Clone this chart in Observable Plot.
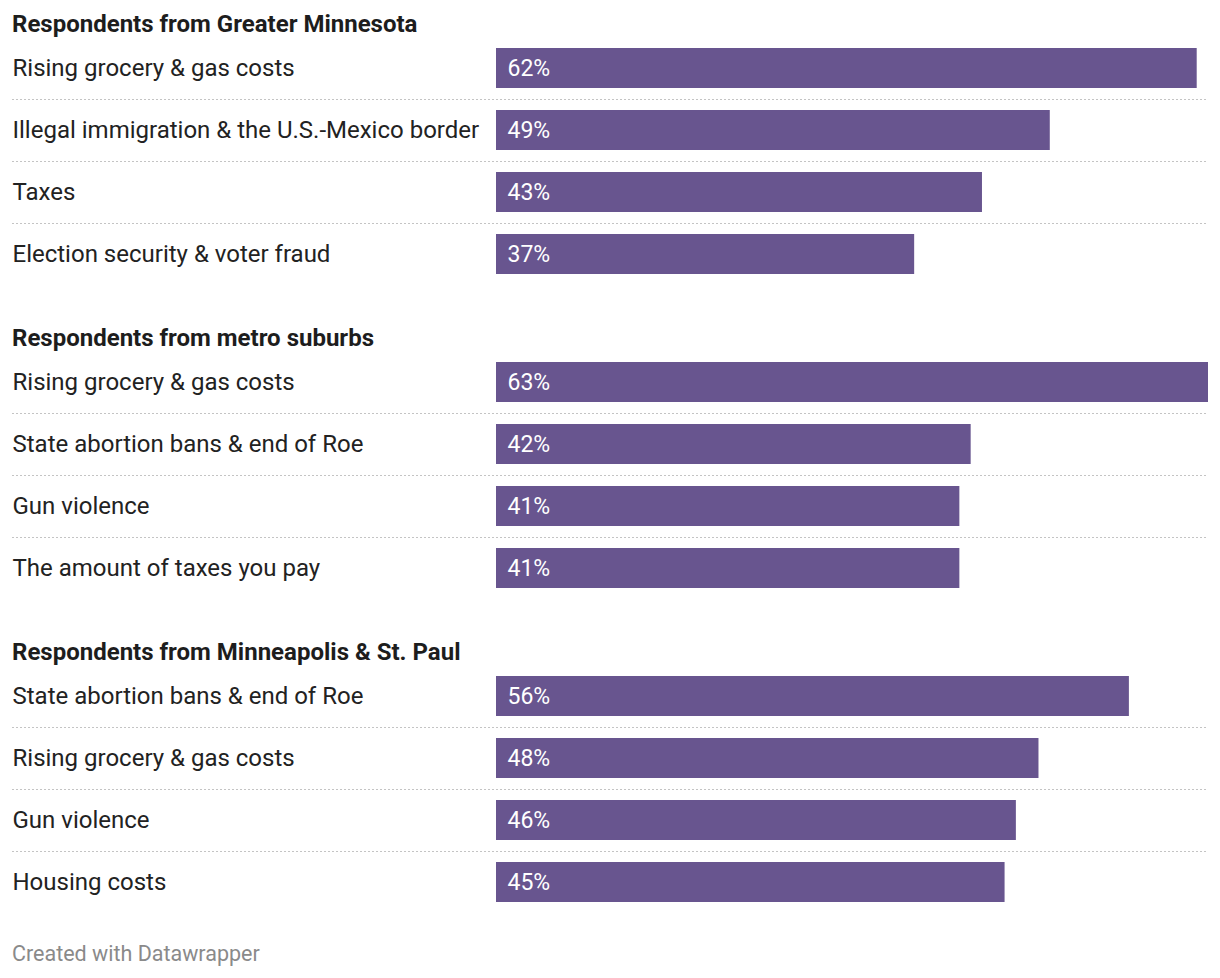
<!DOCTYPE html>
<html>
<head>
<meta charset="utf-8">
<script src="https://cdn.jsdelivr.net/npm/d3@7"></script>
<script src="https://cdn.jsdelivr.net/npm/@observablehq/plot@0.6"></script>
<style>
  body { margin: 0; background: #fff; font-family: Roboto, "Noto Sans", sans-serif; }
  #chart { width: 1220px; }
  .head { font-weight: 700; font-size: 24px; line-height: 26px; color: #1d1d1d; padding-left: 12px; }
  .head.first { padding-top: 11px; }
  .head.next { margin-top: 40px; }
  .foot { font-size: 21.5px; line-height: 24px; color: #8a8a8a; padding-left: 12px; margin-top: 29px; }
  svg { display: block; }
</style>
</head>
<body>
<div id="chart"></div>
<script>
const groupTitles = [
  "Respondents from Greater Minnesota",
  "Respondents from metro suburbs",
  "Respondents from Minneapolis & St. Paul"
];
const greaterMNIssues = [
  "Rising grocery & gas costs",
  "Illegal immigration & the U.S.-Mexico border",
  "Taxes",
  "Election security & voter fraud"
];
const greaterMNValues = [62, 49, 43, 37];
const suburbsIssues = [
  "Rising grocery & gas costs",
  "State abortion bans & end of Roe",
  "Gun violence",
  "The amount of taxes you pay"
];
const suburbsValues = [63, 42, 41, 41];
const citiesIssues = [
  "State abortion bans & end of Roe",
  "Rising grocery & gas costs",
  "Gun violence",
  "Housing costs"
];
const citiesValues = [56, 48, 46, 45];
const footerText = "Created with Datawrapper";

const groups = [
  {title: groupTitles[0], issues: greaterMNIssues, values: greaterMNValues},
  {title: groupTitles[1], issues: suburbsIssues, values: suburbsValues},
  {title: groupTitles[2], issues: citiesIssues, values: citiesValues}
];
const xMax = d3.max([...greaterMNValues, ...suburbsValues, ...citiesValues]);

const root = document.getElementById("chart");
groups.forEach((g, gi) => {
  const h = document.createElement("div");
  h.className = "head " + (gi === 0 ? "first" : "next");
  h.textContent = g.title;
  root.appendChild(h);

  const rows = g.issues.map((issue, i) => ({issue, value: g.values[i], idx: i}));
  const plot = Plot.plot({
    width: 1220,
    height: 248,
    marginLeft: 12,
    marginRight: 12,
    marginTop: 0,
    marginBottom: 0,
    style: {fontFamily: "Roboto, 'Noto Sans', sans-serif", background: "#fff"},
    x: {domain: [0, xMax], range: [496, 1208], axis: null},
    y: {domain: g.issues, axis: null, paddingInner: 22 / 62, paddingOuter: 11 / 62},
    marks: [
      Plot.ruleY(rows.filter(d => d.idx < rows.length - 1), {
        y: "issue", dy: 31, stroke: "#c4c4c4", strokeWidth: 1.2, strokeDasharray: "2,2"
      }),
      Plot.barX(rows, {x: "value", y: "issue", fill: "#68558f"}),
      Plot.text(rows, {
        y: "issue", text: "issue", frameAnchor: "left", textAnchor: "start",
        fontSize: 24, fill: "#222"
      }),
      Plot.text(rows, {
        x: 0, y: "issue", text: d => d.value + "%", textAnchor: "start", dx: 11,
        fontSize: 23, fill: "#fff"
      })
    ]
  });
  root.appendChild(plot);
});

const f = document.createElement("div");
f.className = "foot";
f.textContent = footerText;
root.appendChild(f);
</script>
</body>
</html>
